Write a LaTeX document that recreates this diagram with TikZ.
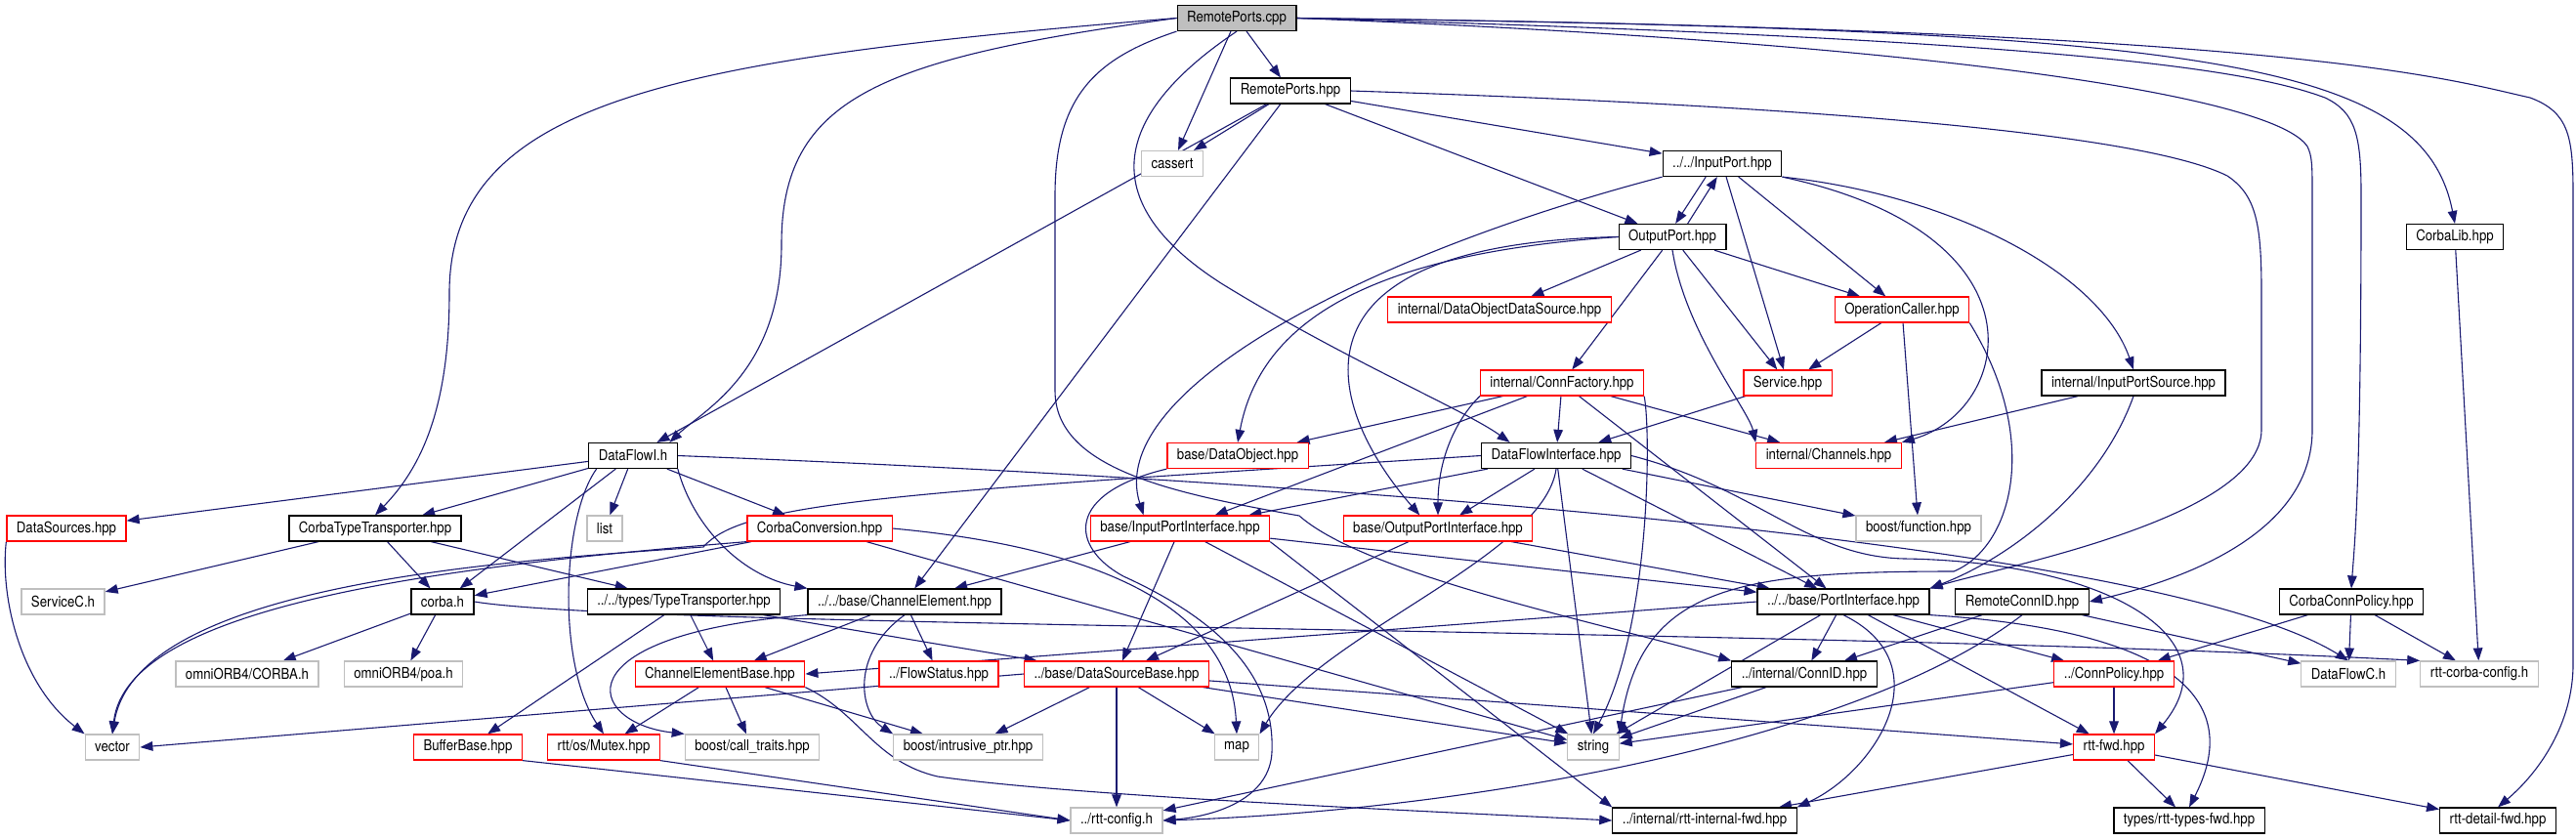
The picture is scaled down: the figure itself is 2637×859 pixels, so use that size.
\documentclass[tikz,border=0pt]{standalone}
\usepackage{fontspec}
\setmainfont[FakeStretch=0.87]{TeX Gyre Heros}
\usetikzlibrary{arrows.meta}

\definecolor{edgeblue}{HTML}{191970}
\definecolor{extgray}{HTML}{BFBFBF}

\pgfdeclarelayer{edges}
\pgfsetlayers{edges,main}

\begin{document}
\begin{tikzpicture}[x=0.5pt, y=0.5pt]
        \tikzstyle{every node} = [font=\fontsize{7.6}{9}\selectfont]
        \tikzstyle{box}   = [draw=black, line width=0.6pt, fill=white, inner xsep=5pt, inner ysep=0pt, minimum height=13pt]
        \tikzstyle{root}  = [box, fill=extgray]
        \tikzstyle{trunc} = [box, draw=red]
        \tikzstyle{ext}   = [box, draw=extgray]
        \tikzstyle{edge}  = [draw=edgeblue, line width=0.55pt, -{Triangle[length=6.5pt, width=4.8pt]}]

        \useasboundingbox (0,0) rectangle (2637,-859);

        \def\rowa{-18.5}
        \def\rowb{-93}
        \def\rowc{-167.5}
        \def\rowd{-242.5}
        \def\rowe{-317}
        \def\rowf{-392}
        \def\rowg{-466.5}
        \def\rowh{-541}
        \def\rowi{-616}
        \def\rowj{-690}
        \def\rowk{-765}
        \def\rowl{-840}

        % files
        \node[root]  (cpp)     at (1266,\rowa) {RemotePorts.cpp};
        \node[box]   (rphpp)   at (1321,\rowb) {RemotePorts.hpp};
        \node[ext]   (cassert) at (1200,\rowc) {cassert};
        \node[box]   (inport)  at (1763,\rowc) {../../InputPort.hpp};
        \node[box]   (outport) at (1712,\rowd) {OutputPort.hpp};
        \node[box]   (clib)    at (2513,\rowd) {CorbaLib.hpp};
        \node[trunc] (dods)    at (1535,\rowe) {internal/DataObjectDataSource.hpp};
        \node[trunc] (opcall)  at (1947,\rowe) {OperationCaller.hpp};
        \node[trunc] (cfac)    at (1599,\rowf) {internal/ConnFactory.hpp};
        \node[trunc] (service) at (1830,\rowf) {Service.hpp};
        \node[box]   (ipsrc)   at (2184,\rowf) {internal/InputPortSource.hpp};
        \node[box]   (dfi)     at (648,\rowg)  {DataFlowI.h};
        \node[trunc] (dobj)    at (1267,\rowg) {base/DataObject.hpp};
        \node[box]   (dfif)    at (1593,\rowg) {DataFlowInterface.hpp};
        \node[trunc] (chan)    at (1872,\rowg) {internal/Channels.hpp};
        \node[trunc] (dsrc)    at (68,\rowh)   {DataSources.hpp};
        \node[box]   (ctt)     at (384,\rowh)  {CorbaTypeTransporter.hpp};
        \node[ext]   (list)    at (619,\rowh)  {list};
        \node[trunc] (cconv)   at (839,\rowh)  {CorbaConversion.hpp};
        \node[trunc] (ipif)    at (1208,\rowh) {base/InputPortInterface.hpp};
        \node[trunc] (opif)    at (1472,\rowh) {base/OutputPortInterface.hpp};
        \node[ext]   (bfun)    at (1964,\rowh) {boost/function.hpp};
        \node[ext]   (svcc)    at (64.5,\rowi) {ServiceC.h};
        \node[box]   (corba)   at (453,\rowi)  {corba.h};
        \node[box]   (tt)      at (700,\rowi)  {../../types/TypeTransporter.hpp};
        \node[box]   (chel)    at (926,\rowi)  {../../base/ChannelElement.hpp};
        \node[box]   (portif)  at (1887,\rowi) {../../base/PortInterface.hpp};
        \node[box]   (rcid)    at (2070,\rowi) {RemoteConnID.hpp};
        \node[box]   (ccp)     at (2407,\rowi) {CorbaConnPolicy.hpp};
        \node[ext]   (orb)     at (253,\rowj)  {omniORB4/CORBA.h};
        \node[ext]   (poa)     at (413,\rowj)  {omniORB4/poa.h};
        \node[trunc] (ceb)     at (737,\rowj)  {ChannelElementBase.hpp};
        \node[trunc] (flow)    at (961,\rowj)  {../FlowStatus.hpp};
        \node[trunc] (dsb)     at (1143,\rowj) {../base/DataSourceBase.hpp};
        \node[box]   (cid)     at (1847,\rowj) {../internal/ConnID.hpp};
        \node[trunc] (cpol)    at (2164,\rowj) {../ConnPolicy.hpp};
        \node[ext]   (dfc)     at (2404,\rowj) {DataFlowC.h};
        \node[ext]   (rcc)     at (2538,\rowj) {rtt-corba-config.h};
        \node[ext]   (vect)    at (115,\rowk)  {vector};
        \node[trunc] (bufb)    at (479,\rowk)  {BufferBase.hpp};
        \node[trunc] (mutex)   at (618,\rowk)  {rtt/os/Mutex.hpp};
        \node[ext]   (ctr)     at (770,\rowk)  {boost/call\_traits.hpp};
        \node[ext]   (iptr)    at (991,\rowk)  {boost/intrusive\_ptr.hpp};
        \node[ext]   (map)     at (1266,\rowk) {map};
        \node[ext]   (str)     at (1631,\rowk) {string};
        \node[trunc] (rfwd)    at (2164,\rowk) {rtt-fwd.hpp};
        \node[ext]   (rcfg)    at (1143,\rowl) {../rtt-config.h};
        \node[box]   (rifwd)   at (1745,\rowl) {../internal/rtt-internal-fwd.hpp};
        \node[box]   (rtfwd)   at (2241,\rowl) {types/rtt-types-fwd.hpp};
        \node[box]   (rdfwd)   at (2557,\rowl) {rtt-detail-fwd.hpp};

        \begin{pgfonlayer}{edges}
        % straight includes
        \foreach \a/\b in {cpp/rphpp, cpp/cassert,
                rphpp/cassert, rphpp/inport, rphpp/outport, rphpp/dfi, rphpp/chel,
                inport/service, inport/opcall,
                outport/dods, outport/cfac, outport/service, outport/opcall,
                opcall/service, opcall/bfun, service/dfif,
                cfac/dobj, cfac/ipif, cfac/dfif, cfac/chan, cfac/portif, ipsrc/chan,
                dfif/ipif, dfif/opif, dfif/bfun, dfif/str, dfif/portif,
                dfi/dsrc, dfi/ctt, dfi/corba, dfi/list, dfi/cconv,
                ctt/svcc, ctt/corba, ctt/tt, cconv/corba, cconv/str,
                ipif/chel, ipif/dsb, ipif/portif, ipif/str, opif/dsb, opif/portif,
                tt/ceb, tt/bufb, tt/dsb, chel/ceb, chel/flow,
                portif/cid, portif/cpol, portif/rfwd, portif/str,
                rcid/cid, rcid/dfc, ccp/cpol, ccp/dfc, ccp/rcc, clib/rcc,
                corba/orb, corba/poa, ceb/mutex, ceb/ctr, ceb/iptr,
                dsb/iptr, dsb/map, dsb/rcfg, dsb/str, dsb/rfwd,
                cid/rcfg, cid/str, cpol/str, cpol/rfwd,
                rfwd/rifwd, rfwd/rtfwd, rfwd/rdfwd}
            \draw[edge] (\a) -- (\b);

        % routed includes
        \draw[edge] (cpp.west) .. controls (700,-60) and (460,-100) .. (460,-300)
            .. controls (460,-420) and (430,-480) .. (ctt.north);
        \draw[edge] (cpp.west) .. controls (900,-60) and (800,-100) .. (800,-250)
            .. controls (800,-380) and (720,-420) .. (dfi.20);
        \draw[edge] (cpp.south) .. controls (1150,-110) and (1110,-200) .. (1250,-290)
            .. controls (1380,-370) and (1500,-420) .. (dfif.164);
        \draw[edge] (cpp.south west) .. controls (1120,-60) and (1080,-100) .. (1080,-200) -- (1080,-400)
            .. controls (1080,-480) and (1200,-505) .. (1330,-528)
            .. controls (1400,-590) and (1650,-640) .. (cid.north west);
        \draw[edge] (cpp.east) .. controls (2250,-30) and (2480,-60) .. (clib.north);
        \draw[edge] (cpp.east) .. controls (2350,-30) and (2500,-80) .. (2590,-100)
            .. controls (2630,-115) and (2634,-140) .. (2634,-200) -- (2634,-680)
            .. controls (2634,-740) and (2600,-790) .. (rdfwd.north);
        \draw[edge] (cpp.east) .. controls (2100,-40) and (2300,-70) .. (2380,-100)
            .. controls (2412,-115) and (2417,-140) .. (2417,-200)
            .. controls (2417,-500) and (2410,-560) .. (ccp.north);
        \draw[edge] (cpp.east) .. controls (2000,-45) and (2330,-100) .. (2362,-150)
            .. controls (2367,-160) and (2367,-170) .. (2367,-200) -- (2367,-440)
            .. controls (2367,-540) and (2250,-590) .. (rcid.east);
        \draw[edge] (rphpp.east) .. controls (1900,-110) and (2200,-140) .. (2280,-180)
            .. controls (2310,-200) and (2315,-230) .. (2315,-300) -- (2315,-440)
            .. controls (2315,-530) and (2050,-580) .. (portif.north east);
        \draw[edge] (inport.219) -- (outport.77);
        \draw[edge] (outport.41) -- (inport.249);
        \draw[edge] (inport.south west) .. controls (1400,-260) and (1130,-400) .. (ipif.160);
        \draw[edge] (inport.south east) .. controls (2100,-240) and (2060,-420) .. (chan.north east);
        \draw[edge] (inport.south east) .. controls (2000,-200) and (2150,-280) .. (ipsrc.north);
        \draw[edge] (outport.west) .. controls (1400,-260) and (1290,-330) .. (dobj.north);
        \draw[edge] (outport.west) .. controls (1300,-250) and (1360,-420) .. (opif.144);
        \draw[edge] (outport.south) .. controls (1725,-340) and (1790,-420) .. (chan.north west);
        \draw[edge] (opcall.south east) .. controls (2090,-450) and (2060,-560) .. (2000,-585)
            .. controls (1780,-585) and (1680,-600) .. (str.north east);
        \draw[edge] (cfac.south west) .. controls (1490,-430) and (1472,-470) .. (opif.north);
        \draw[edge] (cfac.south east) .. controls (1690,-440) and (1690,-640) .. (str.north);
        \draw[edge] (ipsrc.south) .. controls (2150,-500) and (2060,-570) .. (portif.north east);
        \draw[edge] (dfif.south) .. controls (1580,-570) and (1350,-650) .. (map.north east);
        \draw[edge] (dfif.east) .. controls (1800,-500) and (1850,-570) .. (1950,-572)
            .. controls (2150,-575) and (2290,-650) .. (rfwd.north east);
        \draw[edge] (dfif.west) .. controls (900,-505) and (760,-515) .. (720,-560)
            .. controls (500,-575) and (140,-600) .. (vect.north);
        \draw[edge] (cconv.south west) .. controls (450,-580) and (130,-620) .. (vect.north);
        \draw[edge] (cconv.east) .. controls (1120,-560) and (1260,-620) .. (map.north);
        \draw[edge] (dsrc.south west) .. controls (0,-610) and (20,-700) .. (vect.north west);
        \draw[edge] (dfi.200) .. controls (575,-530) and (570,-680) .. (mutex.north);
        \draw[edge] (dfi.south east) .. controls (710,-540) and (760,-590) .. (chel.north west);
        \draw[edge] (dfi.east) .. controls (1300,-490) and (2200,-550) .. (dfc.north);
        \draw[edge] (corba.east) .. controls (650,-643) and (1800,-642) .. (rcc.north west);
        \draw[edge] (ipif.south east) -- (rifwd.north west);
        \draw[edge] (dobj.south west) .. controls (1090,-505) and (1095,-560) .. (1150,-590)
            .. controls (1260,-640) and (1305,-700) .. (1302,-770)
            .. controls (1300,-815) and (1250,-835) .. (rcfg.east);
        \draw[edge] (chel.south west) .. controls (570,-650) and (600,-740) .. (ctr.north west);
        \draw[edge] (chel.south) .. controls (870,-670) and (880,-730) .. (iptr.north west);
        \draw[edge] (portif.west) -- (ceb.east);
        \draw[edge] (portif.south) .. controls (1990,-680) and (1920,-790) .. (rifwd.north east);
        \draw[edge] (portif.south east) .. controls (2300,-650) and (2275,-760) .. (rtfwd.north);
        \draw[edge] (rcid.south) .. controls (1900,-760) and (1500,-830) .. (rcfg.east);
        \draw[edge] (ceb.south east) .. controls (880,-730) and (895,-780) .. (960,-795)
            .. controls (1100,-815) and (1450,-830) .. (rifwd.west);
        \draw[edge] (dsb.west) -- (vect.east);
        \draw[edge] (bufb.south east) -- (rcfg.west);
        \draw[edge] (mutex.south east) -- (rcfg.west);
        \end{pgfonlayer}
\end{tikzpicture}
\end{document}
